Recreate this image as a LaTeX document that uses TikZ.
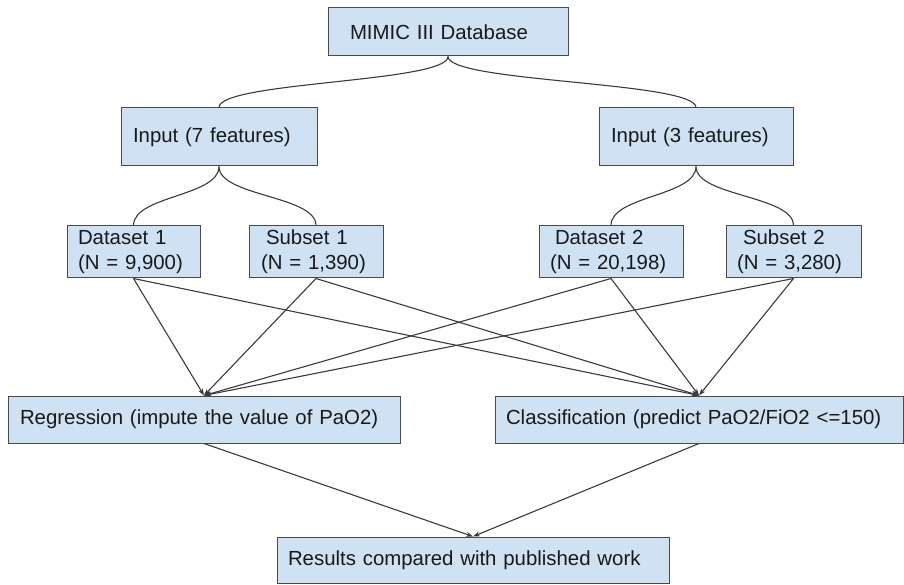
\documentclass[tikz,border=0pt]{standalone}
\usepackage{fontspec}
\setmainfont{Liberation Sans}
\usetikzlibrary{positioning,arrows.meta}
\definecolor{boxfill}{HTML}{CFE2F3}
\definecolor{boxline}{HTML}{4A4A4A}
\definecolor{wirecol}{HTML}{3A3A3A}

\begin{document}
\begin{tikzpicture}
[x=1pt, y=1pt, on grid, >={Stealth[length=7pt, width=5pt]},
box/.style={draw=boxline, fill=boxfill, line width=1pt, inner xsep=11pt, inner ysep=0pt,
  align=left, text=black!90, font=\fontsize{20.4}{25}\selectfont},
wire/.style={draw=wirecol, line width=1.1pt}]

\useasboundingbox (0,0) rectangle (904,584);

\node [box, inner xsep=22pt, text width=196pt, minimum height=48pt] (mimic) at (448,552) {MIMIC III Database};

\node [box, inner xsep=12pt, text width=172pt, minimum height=58pt] (in7) [below left=105pt and 229pt of mimic] {Input (7 features)};
\node [box, inner xsep=12pt, text width=170pt, minimum height=58pt] (in3) [below right=105pt and 248pt of mimic] {Input (3 features)};

\node [box, text width=111pt, minimum height=52pt] (ds1) [below left=115pt and 85.5pt of in7] {Dataset 1\\(N = 9,900)};
\node [box, inner xsep=12pt, text width=110pt, minimum height=52pt] (sub1) [below right=115pt and 97pt of in7] {\hspace{5pt}Subset 1\\(N = 1,390)};
\node [box, text width=122pt, minimum height=52pt] (ds2) [below left=115pt and 85pt of in3] {\hspace{5pt}Dataset 2\\(N = 20,198)};
\node [box, text width=113pt, minimum height=52pt] (sub2) [below right=115pt and 97.5pt of in3] {\hspace{6pt}Subset 2\\(N = 3,280)};

\node [box, inner xsep=12pt, text width=368pt, minimum height=47pt] (regr) [below right=167.5pt and 70.5pt of ds1] {Regression (impute the value of PaO2)};
\node [box, text width=386pt, minimum height=47pt] (clas) [below right=167.5pt and 88pt of ds2] {Classification (predict PaO2/FiO2 <=150)};

\node [box, text width=370pt, minimum height=46pt] (res) [below right=140.5pt and 269pt of regr] {Results compared with published work};

% curved splits
\draw[wire] (mimic.south) to[out=-90, in=90, distance=26pt] (in7.north);
\draw[wire] (mimic.south) to[out=-90, in=90, distance=26pt] (in3.north);
\draw[wire] (in7.south) to[out=-90, in=90, distance=30pt] (ds1.north);
\draw[wire] (in7.south) to[out=-90, in=90, distance=30pt] (sub1.north);
\draw[wire] (in3.south) to[out=-90, in=90, distance=30pt] (ds2.north);
\draw[wire] (in3.south) to[out=-90, in=90, distance=30pt] (sub2.north);

% every set goes to both tasks
\draw[wire, ->] (ds1.south) -- (regr.north);
\draw[wire, ->] (ds1.south) -- (clas.north);
\draw[wire, ->] (sub1.south) -- (regr.north);
\draw[wire, ->] (sub1.south) -- (clas.north);
\draw[wire, ->] (ds2.south) -- (regr.north);
\draw[wire, ->] (ds2.south) -- (clas.north);
\draw[wire, ->] (sub2.south) -- (regr.north);
\draw[wire, ->] (sub2.south) -- (clas.north);

\draw[wire, ->] (regr.south) -- (res.north);
\draw[wire, ->] (clas.south) -- (res.north);

\end{tikzpicture}
\end{document}
